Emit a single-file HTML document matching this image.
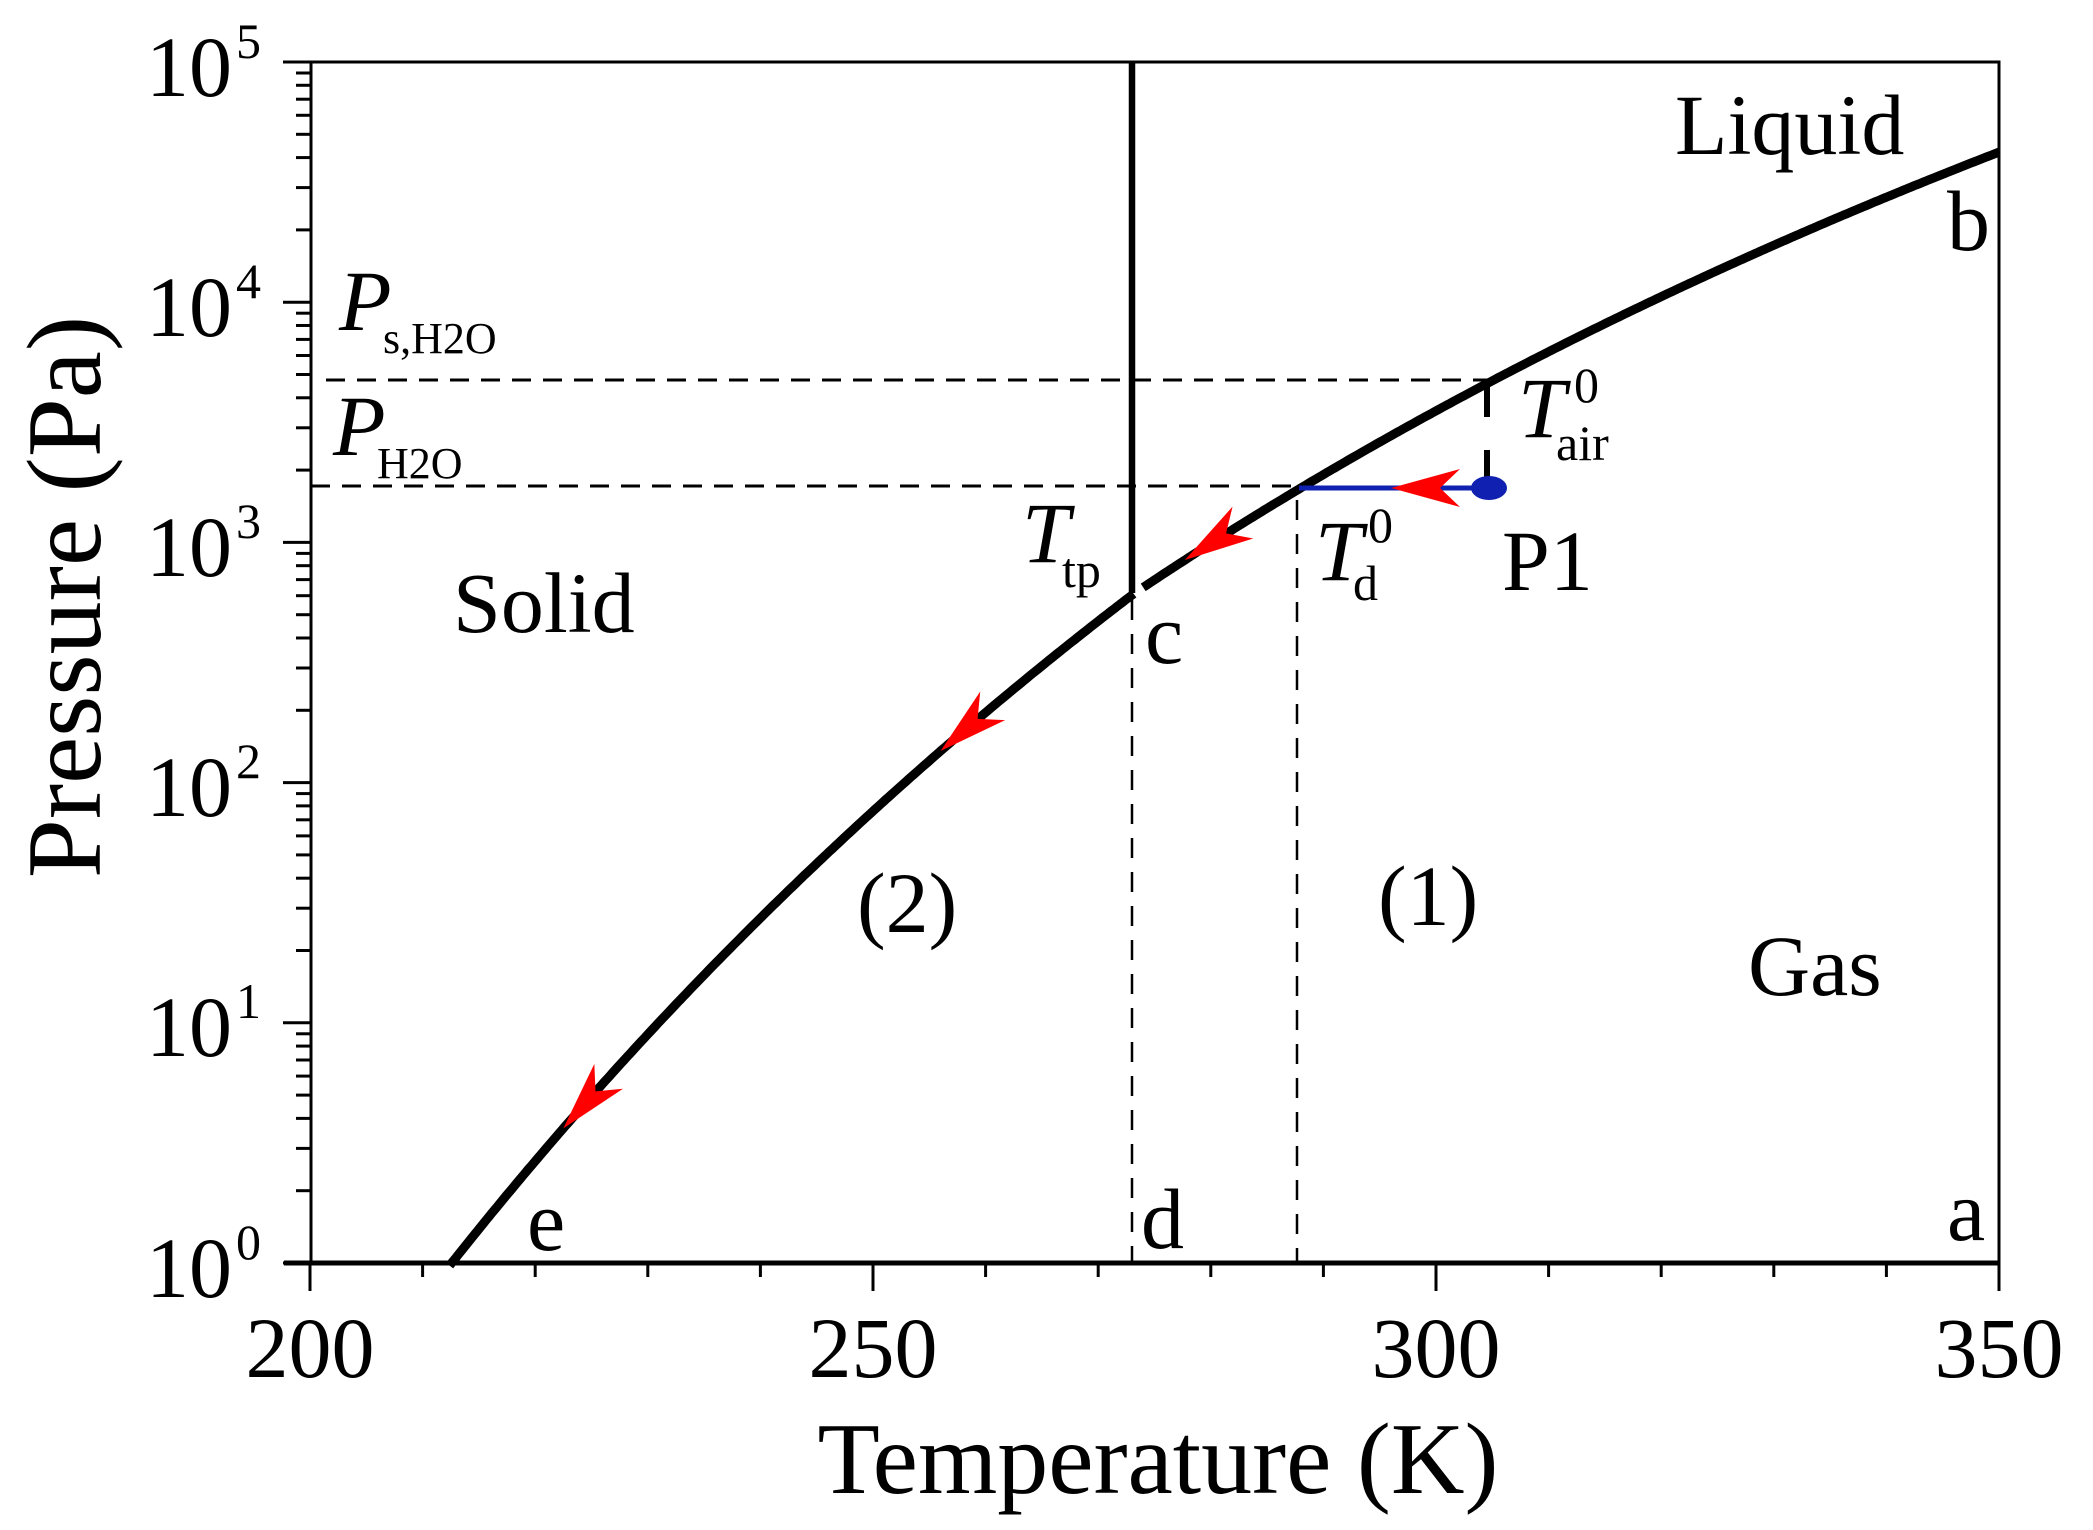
<!DOCTYPE html>
<html><head><meta charset="utf-8"><style>
html,body{margin:0;padding:0;background:#fff}
svg{display:block}
text{font-family:"Liberation Serif",serif;fill:#000}
</style></head><body>
<svg id="s" width="2093" height="1530" viewBox="0 0 2093 1530" xmlns="http://www.w3.org/2000/svg">
<g id="g"></g>
<g font-size="86">
<text x="232" y="96" text-anchor="end">10</text><text x="236" y="58" font-size="50">5</text>
<text x="232" y="336" text-anchor="end">10</text><text x="236" y="298" font-size="50">4</text>
<text x="232" y="576" text-anchor="end">10</text><text x="236" y="538" font-size="50">3</text>
<text x="232" y="816" text-anchor="end">10</text><text x="236" y="778" font-size="50">2</text>
<text x="232" y="1056" text-anchor="end">10</text><text x="236" y="1018" font-size="50">1</text>
<text x="232" y="1297" text-anchor="end">10</text><text x="236" y="1259" font-size="50">0</text>
<text x="310" y="1377" text-anchor="middle">200</text>
<text x="873" y="1377" text-anchor="middle">250</text>
<text x="1436" y="1377" text-anchor="middle">300</text>
<text x="1999" y="1377" text-anchor="middle">350</text>
</g>
<text x="1158" y="1493" font-size="102" text-anchor="middle">Temperature (K)</text>
<text transform="translate(100,597) rotate(-90)" font-size="106" text-anchor="middle">Pressure (Pa)</text>
<g font-size="86">
<text x="1675" y="154">Liquid</text>
<text x="1947" y="250">b</text>
<text x="453" y="632">Solid</text>
<text x="857" y="932">(2)</text>
<text x="1378" y="925">(1)</text>
<text x="1748" y="995">Gas</text>
<text x="527" y="1250">e</text>
<text x="1141" y="1248">d</text>
<text x="1947" y="1240">a</text>
<text x="1145" y="663">c</text>
<text x="1502" y="590">P1</text>
<text x="339" y="330" font-style="italic">P</text><text x="383" y="353" font-size="44">s,H2O</text>
<text x="333" y="455" font-style="italic">P</text><text x="377" y="478" font-size="44">H2O</text>
<text x="1022" y="562" font-style="italic">T</text><text x="1062" y="587" font-size="50">tp</text>
<text x="1315" y="580" font-style="italic">T</text><text x="1368" y="542" font-size="50">0</text><text x="1353" y="600" font-size="50">d</text>
<text x="1518" y="437" font-style="italic">T</text><text x="1574" y="402" font-size="50">0</text><text x="1556" y="460" font-size="50">air</text>
</g>
</svg>
<script>
var g=document.getElementById('g'),NS='http://www.w3.org/2000/svg';
function X(T){return 310+(T-200)*11.26}
function Y(P){return 1263-240.2*Math.log10(P)}
function Pw(T){var t=T-273.15;return 610.94*Math.exp(17.625*t/(t+243.04))}
function Pi(T){var t=T-273.15;return 611.15*Math.exp(22.452*t/(272.55+t))}
function el(n,a){var e=document.createElementNS(NS,n);for(var k in a)e.setAttribute(k,a[k]);g.appendChild(e);return e}
el('line',{x1:326,y1:380,x2:1487,y2:380,stroke:'#000','stroke-width':3,'stroke-dasharray':'19 12'});
el('line',{x1:311,y1:486,x2:1300,y2:486,stroke:'#000','stroke-width':3,'stroke-dasharray':'19 12'});
el('line',{x1:1132,y1:600,x2:1132,y2:1263,stroke:'#000','stroke-width':2.5,'stroke-dasharray':'20 14'});
el('line',{x1:1297,y1:500,x2:1297,y2:1263,stroke:'#000','stroke-width':2.5,'stroke-dasharray':'20 14'});
el('line',{x1:1487,y1:385,x2:1487,y2:417,stroke:'#000','stroke-width':6});
el('line',{x1:1487,y1:450,x2:1487,y2:486,stroke:'#000','stroke-width':6});
el('line',{x1:1132,y1:62,x2:1132,y2:593,stroke:'#000','stroke-width':6.5});
var d='',T;
for(T=212.4;T<=273.15;T+=0.25){d+=(d?'L':'M')+X(T).toFixed(1)+','+Y(Pi(T)).toFixed(1)}
el('path',{d:d,fill:'none',stroke:'#000','stroke-width':9});
d='';
for(T=274.0;T<=350.01;T+=0.25){d+=(d?'L':'M')+X(T).toFixed(1)+','+Y(Pw(T)).toFixed(1)}
el('path',{d:d,fill:'none',stroke:'#000','stroke-width':9});
el('line',{x1:1299,y1:488,x2:1487,y2:488,stroke:'#1020b0','stroke-width':5});
el('ellipse',{cx:1489,cy:488,rx:18,ry:12,fill:'#1020b0'});
function arrow(x,y,ang){
 el('polygon',{points:'0,0 -69,-19 -49,0 -69,19',fill:'#ff0000',transform:'translate('+x+','+y+') rotate('+ang+')'});
}
arrow(1391,488,180);
[[277.7,Pw],[256,Pi],[222.5,Pi]].forEach(function(a){
 var T=a[0],f=a[1],x=X(T),y=Y(f(T)),x2=X(T+0.5),y2=Y(f(T+0.5));
 var ang=Math.atan2(y-y2,x-x2)*180/Math.PI;arrow(x,y,ang);
});
el('rect',{x:311,y:62,width:1688,height:1201,fill:'none',stroke:'#000','stroke-width':3});
el('line',{x1:284,y1:1263,x2:2000,y2:1263,stroke:'#000','stroke-width':5});
for(var k=0;k<=15;k++){var x=X(200+10*k);el('line',{x1:x,y1:1263,x2:x,y2:(k%5?1277:1291),stroke:'#000','stroke-width':3})}
for(var dd=0;dd<5;dd++){for(var m=1;m<=10;m++){var y=1263-240.2*(dd+Math.log10(m));
 if(m==1&&dd>0)continue;el('line',{x1:(m==1||m==10)?283:296,y1:y,x2:311,y2:y,stroke:'#000','stroke-width':3})}}
</script>
</body></html>
